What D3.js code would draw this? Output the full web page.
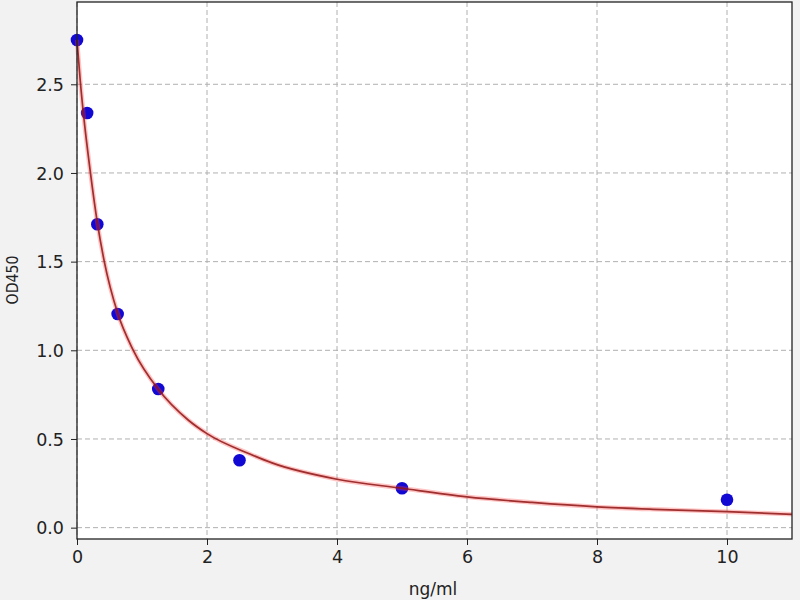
<!DOCTYPE html>
<html>
<head>
<meta charset="utf-8">
<script src="https://cdn.jsdelivr.net/npm/d3@7"></script>
<style>
  html, body { margin: 0; padding: 0; background: #f2f2f2; }
  svg { display: block; }
  svg text { font-family: "DejaVu Sans", sans-serif; }
  .grid line { stroke: #b0b0b0; stroke-dasharray: 5, 3; stroke-width: 1; }
  .axis text { font-size: 17.5px; fill: #222; font-family: "DejaVu Sans", sans-serif; }
  .axis path, .axis line { stroke: #222; }
</style>
</head>
<body>
<div id="chart"></div>
<script>
// Standard points (concentration in ng/ml, OD450)
var stdConc = [0, 0.156, 0.3125, 0.625, 1.25, 2.5, 5, 10];
var stdOD = [2.75, 2.338, 1.711, 1.205, 0.782, 0.380, 0.222, 0.157];

// Fitted curve
var fitConc = [0, 0.05, 0.1, 0.2, 0.3125, 0.42, 0.625, 0.866, 1.25, 1.71, 2, 2.66, 3, 4, 5, 6, 7, 8, 9, 10, 11];
var fitOD = [2.75, 2.52, 2.33, 2.02, 1.72, 1.50, 1.21, 1.00, 0.78, 0.607, 0.53, 0.415, 0.365, 0.273, 0.222, 0.174, 0.142, 0.117, 0.102, 0.090, 0.075];

var xTicks = [0, 2, 4, 6, 8, 10];
var yTicks = [0.0, 0.5, 1.0, 1.5, 2.0, 2.5];

(function() {
    var width = 800, height = 600;
    var margin = { top: 2, right: 8, bottom: 61, left: 77 };
    var w = width - margin.left - margin.right;
    var h = height - margin.top - margin.bottom;

    var svg = d3.select('#chart').append('svg')
        .attr('width', width)
        .attr('height', height);

    var g = svg.append('g')
        .attr('transform', 'translate(' + margin.left + ',' + margin.top + ')');

    var x = d3.scaleLinear().domain([0, 11]).range([0, w]);
    var y = d3.scaleLinear().domain([-0.064, 2.964]).range([h, 0]);

    g.append('rect')
        .attr('width', w)
        .attr('height', h)
        .attr('fill', '#fff');

    // Grid
    g.append('g').attr('class', 'grid')
        .selectAll('line').data(xTicks).join('line')
        .attr('x1', function(d) { return x(d); })
        .attr('x2', function(d) { return x(d); })
        .attr('y1', 0).attr('y2', h);
    g.append('g').attr('class', 'grid')
        .selectAll('line').data(yTicks).join('line')
        .attr('y1', function(d) { return y(d); })
        .attr('y2', function(d) { return y(d); })
        .attr('x1', 0).attr('x2', w);

    // Points
    g.append('g')
        .selectAll('circle')
        .data(stdConc.map(function(c, i) { return [c, stdOD[i]]; }))
        .join('circle')
        .attr('cx', function(d) { return x(d[0]); })
        .attr('cy', function(d) { return y(d[1]); })
        .attr('r', 6.3)
        .attr('fill', '#1208d4');

    // Fit curve
    var fit = fitConc.map(function(c, i) { return [c, fitOD[i]]; });
    var line = d3.line()
        .x(function(d) { return x(d[0]); })
        .y(function(d) { return y(d[1]); })
        .curve(d3.curveMonotoneX);

    g.append('path')
        .datum(fit)
        .attr('d', line)
        .attr('fill', 'none')
        .attr('stroke', 'rgba(255,60,60,0.3)')
        .attr('stroke-width', 4.5);
    g.append('path')
        .datum(fit)
        .attr('d', line)
        .attr('fill', 'none')
        .attr('stroke', '#8e1414')
        .attr('stroke-width', 1.7)
        .attr('opacity', 0.85);

    // Frame
    g.append('rect')
        .attr('width', w)
        .attr('height', h)
        .attr('fill', 'none')
        .attr('stroke', '#222')
        .attr('stroke-width', 1.3);

    // Axes
    var xAxis = g.append('g').attr('class', 'axis')
        .call(d3.axisBottom(x).tickValues(xTicks).tickSize(6).tickPadding(6)
            .tickFormat(d3.format('d')))
        .attr('transform', 'translate(0,' + h + ')');
    xAxis.attr('font-family', '"DejaVu Sans", sans-serif');
    xAxis.select('.domain').remove();

    var yAxis = g.append('g').attr('class', 'axis')
        .call(d3.axisLeft(y).tickValues(yTicks).tickSize(6).tickPadding(7)
            .tickFormat(d3.format('.1f')));
    yAxis.attr('font-family', '"DejaVu Sans", sans-serif');
    yAxis.select('.domain').remove();
    yAxis.selectAll('text').attr('dy', '0.36em');

    // Labels
    svg.append('text')
        .attr('x', 433)
        .attr('y', 595)
        .attr('text-anchor', 'middle')
        .attr('font-family', '"DejaVu Sans", sans-serif')
        .attr('font-size', 17)
        .attr('fill', '#222')
        .text('ng/ml');

    svg.append('text')
        .attr('transform', 'translate(18,280) rotate(-90)')
        .attr('text-anchor', 'middle')
        .attr('font-family', '"DejaVu Sans", sans-serif')
        .attr('font-size', 16)
        .attr('textLength', 49)
        .attr('lengthAdjust', 'spacingAndGlyphs')
        .attr('fill', '#222')
        .text('OD450');
})();
</script>
</body>
</html>
